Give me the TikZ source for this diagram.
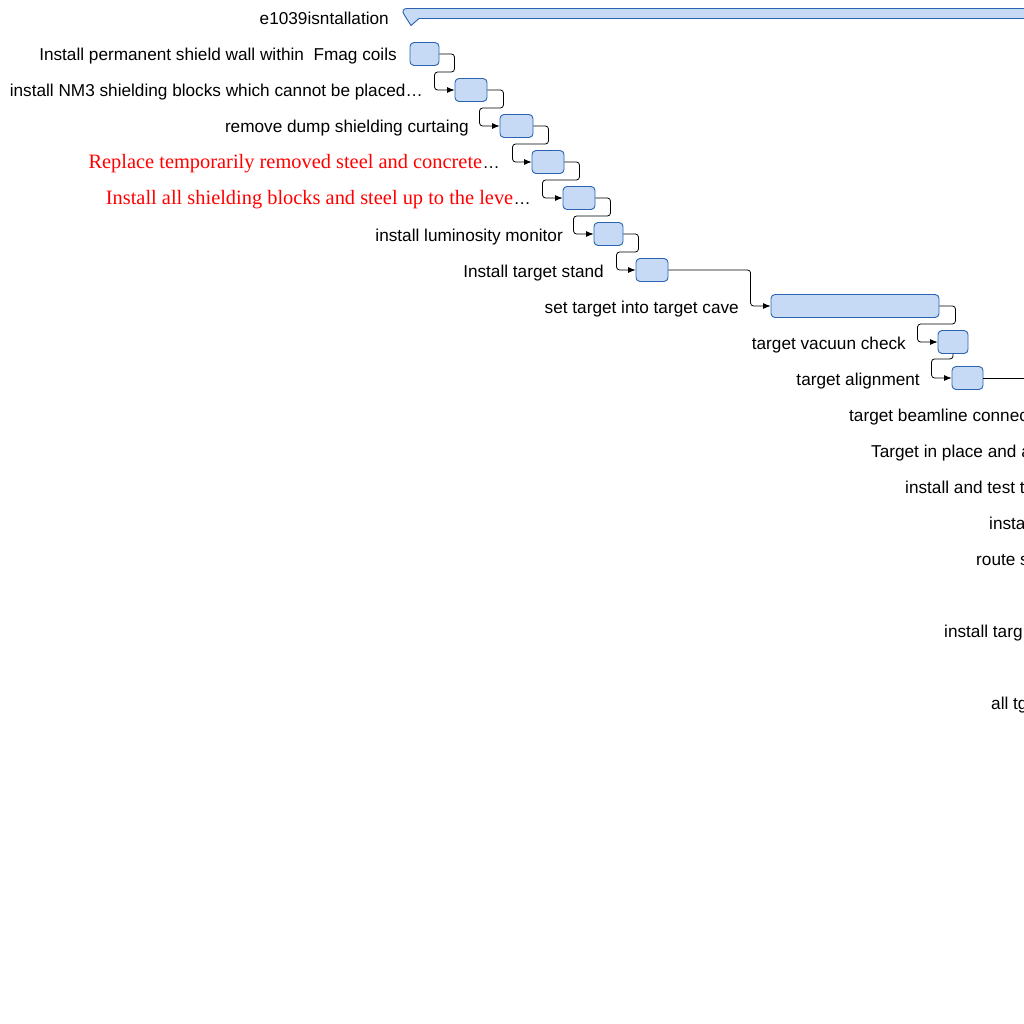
\documentclass[tikz,border=0pt]{standalone}
\usepackage{fontspec}
\setmainfont{Liberation Sans}
\newfontfamily\redfont{Liberation Serif}
\usetikzlibrary{arrows.meta, calc}

\definecolor{cBar}{HTML}{C6DAF6}   % bar fill
\definecolor{cEdge}{HTML}{2A64B0}  % bar outline
\definecolor{cRed}{HTML}{FF0000}   % red task names

\begin{document}
\begin{tikzpicture}[
    x=1pt, y=-1pt,
    >={Latex[length=7.5pt,width=6pt]},
    font=\fontsize{17.2}{20}\selectfont,
    task/.style={rectangle, rounded corners=4pt, draw=cEdge, fill=cBar, line width=0.9pt, minimum height=23pt, inner sep=0pt},
    lbl/.style={anchor=base east, inner sep=0pt},
    cut/.style={anchor=base west, inner sep=0pt},
    redlbl/.style={anchor=base east, inner sep=0pt, font=\fontsize{20.4}{24}\redfont},
    link/.style={->, line width=0.8pt, rounded corners=3pt},
]

\useasboundingbox (0,0) rectangle (1024,1024);
\clip (0,0) rectangle (1024,1024);

% summary bar
\draw[draw=cEdge, fill=cBar, line width=0.9pt] (1030,8.5) -- (407,8.5) .. controls (403,8.5) and (402,11.5) .. (404,14.5) -- (411,25.5) -- (419,18.5) -- (1030,18.5) -- cycle;
\node[lbl] (t0) at (389,25) {e1039isntallation};

% task bars
\node[task, minimum width=29pt]  (b1)  at (424.5,54) {};
\node[task, minimum width=32pt]  (b2)  at (471,90) {};
\node[task, minimum width=33pt]  (b3)  at (516.5,126) {};
\node[task, minimum width=32pt]  (b4)  at (548,162) {};
\node[task, minimum width=32pt]  (b5)  at (579,198) {};
\node[task, minimum width=29pt]  (b6)  at (608.5,234) {};
\node[task, minimum width=32pt]  (b7)  at (652,270) {};
\node[task, minimum width=168pt] (b8)  at (855,306) {};
\node[task, minimum width=30pt]  (b9)  at (953,342) {};
\node[task, minimum width=31pt]  (b10) at (967.5,378) {};
\coordinate (edge) at (1030,378);

% task names
\node[lbl] (t1) at (397,61) {Install permanent shield wall within\ \ Fmag coils};
\node[lbl] (t2) at (423,97) {install NM3 shielding blocks which cannot be placed…};
\node[lbl] (t3) at (469,133) {remove dump shielding curtaing};
\node[lbl] (e4) at (500,169) {…};
\node[redlbl, text=cRed] (t4) at (e4.base west) {Replace temporarily removed steel and concrete};
\node[lbl] (e5) at (531,205) {…};
\node[redlbl, text=cRed] (t5) at (e5.base west) {Install all shielding blocks and steel up to the leve};
\node[lbl] (t6) at (563,241) {install luminosity monitor};
\node[lbl] (t7) at (604,277) {Install target stand};
\node[lbl] (t8) at (739,313) {set target into target cave};
\node[lbl] (t9) at (906,349) {target vacuun check};
\node[lbl] (t10) at (920,385) {target alignment};
\node[cut] (t11) at (849,421) {target beamline connec};
\node[cut] (t12) at (871,457) {Target in place and a};
\node[cut] (t13) at (905,493) {install and test t};
\node[cut] (t14) at (989,529) {insta};
\node[cut] (t15) at (976,565) {route s};
\node[cut] (t17) at (944,637) {install targ};
\node[cut] (t19) at (991,709) {all tg};

% dependencies
\draw[link] (b1.east) -- ++(15,0) -- ++(0,18) -| ($(b2.west)+(-20,0)$) -- (b2.west);
\draw[link] (b2.east) -- ++(16,0) -- ++(0,18) -| ($(b3.west)+(-20,0)$) -- (b3.west);
\draw[link] (b3.east) -- ++(15,0) -- ++(0,18) -| ($(b4.west)+(-19,0)$) -- (b4.west);
\draw[link] (b4.east) -- ++(15,0) -- ++(0,18) -| ($(b5.west)+(-20,0)$) -- (b5.west);
\draw[link] (b5.east) -- ++(15,0) -- ++(0,18) -| ($(b6.west)+(-20,0)$) -- (b6.west);
\draw[link] (b6.east) -- ++(15,0) -- ++(0,18) -| ($(b7.west)+(-19,0)$) -- (b7.west);
\draw[link] (b7.east) -| ($(b8.west)+(-20,0)$) -- (b8.west);
\draw[link] (b8.east) -- ++(16,0) -- ++(0,18) -| ($(b9.west)+(-20,0)$) -- (b9.west);
\draw[link] (b9.south) -- ++(0,5) -| ($(b10.west)+(-20,0)$) -- (b10.west);
\draw[line width=0.8pt] (b10.east) -- (edge);

\end{tikzpicture}
\end{document}
